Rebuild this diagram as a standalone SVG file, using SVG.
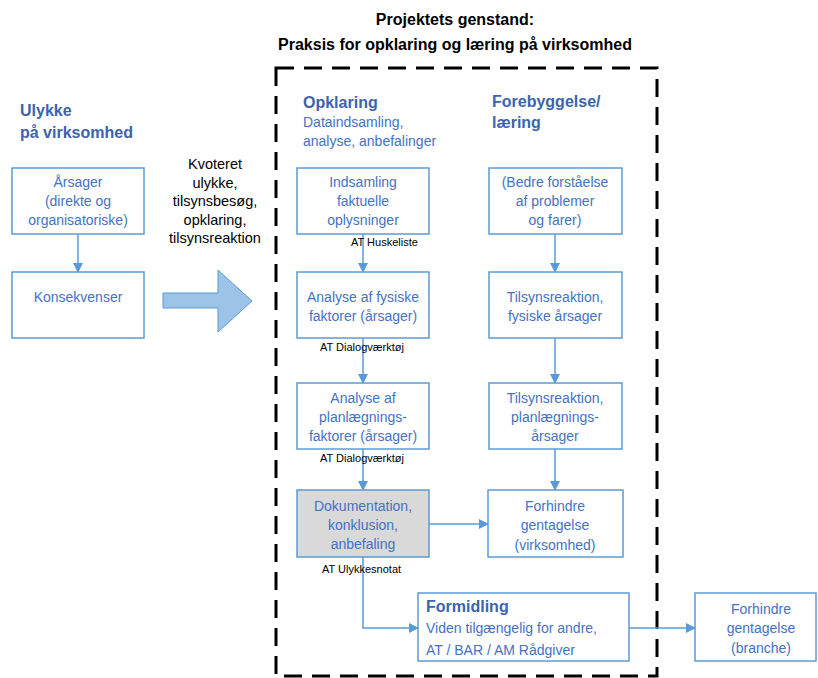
<svg xmlns="http://www.w3.org/2000/svg" width="818" height="678" viewBox="0 0 818 678">
<defs>
<marker id="ah" markerWidth="10" markerHeight="10" refX="9" refY="5" orient="auto" markerUnits="userSpaceOnUse">
<path d="M0,0 L10,5 L0,10 Z" fill="#5B9BD5"/>
</marker>
<style>
.box{fill:#fff;stroke:#5B9BD5;stroke-width:1.5}
.grey{fill:#D9D9D9;stroke:#5B9BD5;stroke-width:1.5}
.t{font-family:"Liberation Sans",Arial,sans-serif;font-size:14px;fill:#4472C4;text-anchor:middle}
.tl{font-family:"Liberation Sans",Arial,sans-serif;font-size:14px;fill:#4472C4}
.h{font-family:"Liberation Sans",Arial,sans-serif;font-size:16px;font-weight:bold;fill:#3B64AD}
.k{font-family:"Liberation Sans",Arial,sans-serif;font-size:14.5px;fill:#000;text-anchor:middle}
.s{font-family:"Liberation Sans",Arial,sans-serif;font-size:11px;fill:#000}
.title{font-family:"Liberation Sans",Arial,sans-serif;font-size:16px;font-weight:bold;fill:#000;text-anchor:middle}
.c{fill:none;stroke:#5B9BD5;stroke-width:1.5;marker-end:url(#ah)}
</style>
</defs>
<rect width="818" height="678" fill="#fff"/>

<g id="title">
<text class="title" x="455" y="25">Projektets genstand:</text>
<text class="title" x="455" y="50">Praksis for opklaring og læring på virksomhed</text>
</g>

<g id="scope">
<rect x="276" y="68" width="381" height="608" fill="none" stroke="#000" stroke-width="3" stroke-dasharray="18 10"/>
</g>

<g id="heading-ulykke">
<text class="h" x="20" y="116">Ulykke</text>
<text class="h" x="20" y="138">på virksomhed</text>
</g>
<g id="heading-opklaring">
<text class="h" x="303" y="108">Opklaring</text>
<text class="tl" x="303" y="127">Dataindsamling,</text>
<text class="tl" x="303" y="146">analyse, anbefalinger</text>
</g>
<g id="heading-forebyggelse">
<text class="h" x="492" y="107">Forebyggelse/</text>
<text class="h" x="492" y="128">læring</text>
</g>

<g id="kvoteret">
<text class="k" x="215" y="169">Kvoteret</text>
<text class="k" x="215" y="188">ulykke,</text>
<text class="k" x="215" y="206">tilsynsbesøg,</text>
<text class="k" x="215" y="225">opklaring,</text>
<text class="k" x="215" y="243">tilsynsreaktion</text>
</g>

<g id="big-arrow">
<path d="M163,293 L218,293 L218,270 L252,301 L218,332 L218,308 L163,308 Z" fill="#9DC3E6" stroke="#5B9BD5" stroke-width="1"/>
</g>

<g id="arsager">
<rect class="box" x="12" y="168" width="132" height="66"/>
<text class="t" x="78" y="187">Årsager</text>
<text class="t" x="78" y="206">(direkte og</text>
<text class="t" x="78" y="225">organisatoriske)</text>
</g>
<g id="konsekvenser">
<rect class="box" x="12" y="272" width="132" height="66"/>
<text class="t" x="78" y="302">Konsekvenser</text>
</g>

<g id="indsamling">
<rect class="box" x="297" y="168" width="132" height="66"/>
<text class="t" x="363" y="187">Indsamling</text>
<text class="t" x="363" y="206">faktuelle</text>
<text class="t" x="363" y="225">oplysninger</text>
</g>
<g id="analyse-fysiske">
<rect class="box" x="297" y="272" width="132" height="66"/>
<text class="t" x="363" y="302">Analyse af fysiske</text>
<text class="t" x="363" y="321">faktorer (årsager)</text>
</g>
<g id="analyse-planl">
<rect class="box" x="297" y="383" width="132" height="66"/>
<text class="t" x="363" y="403">Analyse af</text>
<text class="t" x="363" y="422">planlægnings-</text>
<text class="t" x="363" y="441">faktorer (årsager)</text>
</g>
<g id="dokumentation">
<rect class="grey" x="297" y="490" width="132" height="67"/>
<text class="t" x="363" y="511">Dokumentation,</text>
<text class="t" x="363" y="530">konklusion,</text>
<text class="t" x="363" y="549">anbefaling</text>
</g>

<g id="bedre">
<rect class="box" x="489" y="168" width="133" height="66"/>
<text class="t" x="555" y="187">(Bedre forståelse</text>
<text class="t" x="555" y="206">af problemer</text>
<text class="t" x="555" y="225">og farer)</text>
</g>
<g id="tilsyn-fysiske">
<rect class="box" x="489" y="272" width="133" height="66"/>
<text class="t" x="555" y="302">Tilsynsreaktion,</text>
<text class="t" x="555" y="321">fysiske årsager</text>
</g>
<g id="tilsyn-planl">
<rect class="box" x="489" y="383" width="133" height="66"/>
<text class="t" x="555" y="403">Tilsynsreaktion,</text>
<text class="t" x="555" y="422">planlægnings-</text>
<text class="t" x="555" y="441">årsager</text>
</g>
<g id="forhindre-virksomhed">
<rect class="box" x="488" y="490" width="135" height="67"/>
<text class="t" x="555" y="511">Forhindre</text>
<text class="t" x="555" y="530">gentagelse</text>
<text class="t" x="555" y="550">(virksomhed)</text>
</g>

<g id="formidling">
<rect class="box" x="418" y="593" width="211" height="68"/>
<text class="h" x="426" y="612">Formidling</text>
<text class="tl" x="426" y="633">Viden tilgængelig for andre,</text>
<text class="tl" x="426" y="655">AT / BAR / AM Rådgiver</text>
</g>
<g id="forhindre-branche">
<rect class="box" x="695" y="593" width="121" height="68"/>
<text class="t" x="761" y="614">Forhindre</text>
<text class="t" x="761" y="633">gentagelse</text>
<text class="t" x="761" y="653">(branche)</text>
</g>

<g id="connectors">
<path class="c" d="M78,234 L78,272"/>
<path class="c" d="M363,234 L363,272"/>
<path class="c" d="M363,338 L363,383"/>
<path class="c" d="M363,449 L363,490"/>
<path class="c" d="M363,557 L363,628 L418,628"/>
<path class="c" d="M429,524 L488,524"/>
<path class="c" d="M555,234 L555,272"/>
<path class="c" d="M555,338 L555,383"/>
<path class="c" d="M555,449 L555,490"/>
<path class="c" d="M629,628 L695,628"/>
</g>

<g id="labels">
<text class="s" x="351" y="246">AT Huskeliste</text>
<text class="s" x="320" y="351">AT Dialogværktøj</text>
<text class="s" x="320" y="462">AT Dialogværktøj</text>
<text class="s" x="322" y="573">AT Ulykkesnotat</text>
</g>
</svg>
